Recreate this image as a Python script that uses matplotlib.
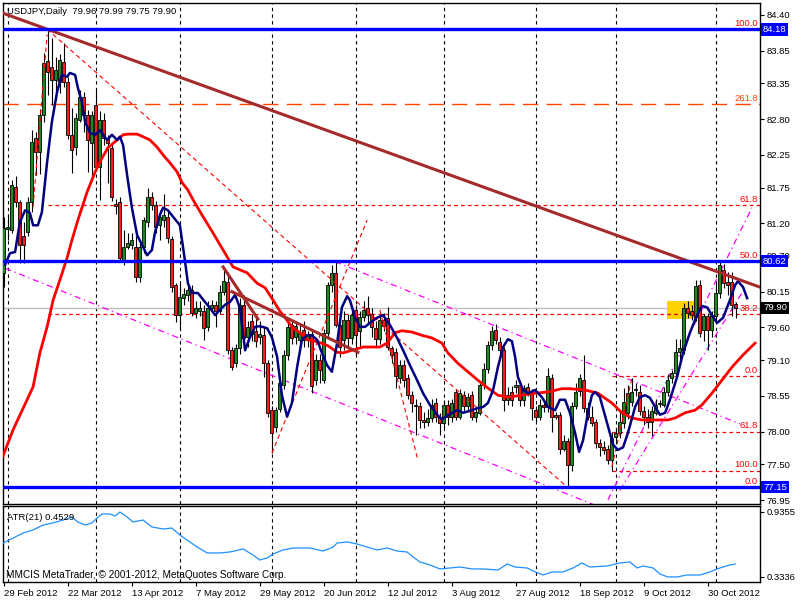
import numpy as np
import matplotlib.pyplot as plt
from matplotlib.patches import Rectangle
from matplotlib.transforms import blended_transform_factory

plt.rcParams['font.family'] = 'Liberation Sans'
plt.rcParams['font.size'] = 6.8

header = "USDJPY,Daily  79.96 79.99 79.75 79.90"

# daily bars, 29 Feb 2012 onwards
opens = [
    80.44, 81.12, 81.10, 81.76, 81.53, 81.00, 81.07, 81.53, 82.51, 82.30,
    82.86, 83.69, 83.60, 83.40, 83.37, 83.68, 83.37, 82.56, 82.37, 82.79,
    83.14, 82.86, 82.43, 83.02, 82.07, 82.79, 82.51, 82.36, 81.50, 81.53,
    80.64, 80.84, 80.87, 80.84, 80.38, 80.84, 81.22, 81.60, 81.48, 81.17,
    81.25, 81.30, 80.96, 80.25, 79.79, 80.05, 80.10, 80.18, 79.82, 79.85,
    79.85, 79.60, 79.90, 79.95, 79.85, 80.15, 80.30, 79.25, 79.05, 79.28,
    79.95, 79.45, 79.70, 79.55, 79.45, 79.48, 79.05, 78.33, 78.07, 78.35,
    78.72, 79.18, 79.64, 79.45, 79.41, 79.56, 79.41, 79.50, 78.79, 79.10,
    78.80, 79.52, 80.25, 80.44, 79.64, 79.41, 79.72, 79.44, 79.87, 79.55,
    79.76, 79.90, 79.80, 79.59, 79.43, 79.72, 79.74, 79.28, 79.23, 78.82,
    79.02, 78.82, 78.56, 78.41, 78.39, 78.18, 78.15, 78.21, 78.44, 78.23,
    78.13, 78.41, 78.23, 78.61, 78.23, 78.56, 78.39, 78.56, 78.23, 78.28,
    78.72, 78.97, 79.33, 79.56, 79.38, 79.25, 78.49, 78.61, 78.69, 78.72,
    78.49, 78.69, 78.61, 78.34, 78.23, 78.41, 78.38, 78.83, 78.26, 78.26,
    77.74, 77.85, 77.49, 78.39, 78.62, 78.79, 78.36, 78.23, 78.15, 77.82,
    77.77, 77.74, 77.56, 77.92, 77.98, 78.13, 78.28, 78.46, 78.64, 78.61,
    78.31, 78.23, 78.15, 78.28, 78.42, 78.41, 78.61, 78.83, 78.90, 79.23,
    79.25, 79.90, 79.85, 79.76, 80.25, 79.56, 79.77, 79.56, 79.77, 80.13,
    80.48, 80.30, 80.30, 79.96]
highs = [
    81.30, 81.35, 81.87, 81.92, 81.56, 81.22, 81.60, 82.63, 82.60, 82.95,
    83.82, 84.18, 84.05, 83.75, 83.80, 83.97, 83.45, 82.97, 82.90, 83.25,
    83.22, 82.94, 82.92, 83.25, 82.92, 82.90, 82.56, 82.45, 81.58, 81.60,
    81.10, 81.05, 81.05, 81.00, 80.95, 81.30, 81.75, 81.68, 81.55, 81.40,
    81.65, 81.40, 81.00, 80.28, 80.28, 80.20, 80.30, 80.25, 80.00, 80.00,
    79.95, 80.00, 80.02, 80.00, 80.25, 80.52, 80.45, 79.30, 79.35, 80.05,
    80.10, 79.70, 79.80, 79.75, 79.70, 79.60, 79.10, 78.40, 78.38, 78.80,
    79.25, 79.75, 79.70, 79.70, 79.65, 79.70, 79.55, 79.55, 79.20, 79.20,
    79.58, 80.30, 80.56, 80.62, 79.75, 79.85, 79.80, 79.95, 79.95, 79.85,
    80.00, 80.08, 79.90, 79.70, 79.78, 79.82, 79.92, 79.32, 79.28, 79.10,
    79.10, 78.88, 78.62, 78.50, 78.45, 78.30, 78.35, 78.50, 78.52, 78.28,
    78.48, 78.49, 78.50, 78.65, 78.65, 78.62, 78.60, 78.62, 78.35, 78.75,
    79.05, 79.40, 79.62, 79.65, 79.45, 79.30, 78.68, 78.70, 78.80, 78.78,
    78.72, 78.75, 78.66, 78.40, 78.50, 78.48, 78.98, 78.88, 78.30, 78.30,
    77.95, 77.90, 78.45, 78.75, 78.88, 79.18, 78.45, 78.40, 78.20, 77.88,
    77.85, 77.80, 78.00, 78.05, 78.30, 78.67, 78.72, 78.82, 78.75, 78.72,
    78.40, 78.35, 78.40, 78.50, 78.48, 78.68, 78.88, 78.95, 79.43, 79.43,
    79.98, 80.00, 79.95, 80.33, 80.33, 79.80, 79.82, 79.85, 80.28, 80.64,
    80.58, 80.45, 80.45, 79.99]
lows = [
    80.22, 80.95, 81.05, 81.45, 80.59, 80.59, 81.00, 81.38, 81.94, 81.95,
    82.75, 83.17, 83.02, 83.10, 83.20, 83.30, 82.50, 81.97, 82.25, 82.75,
    82.60, 81.99, 81.85, 82.00, 81.56, 82.40, 81.82, 81.55, 81.35, 80.60,
    80.56, 80.80, 80.80, 80.30, 80.30, 80.75, 81.15, 81.40, 81.05, 80.95,
    81.15, 80.90, 80.15, 79.68, 79.59, 79.95, 80.00, 79.78, 79.75, 79.78,
    79.41, 79.55, 79.85, 79.60, 79.80, 80.10, 79.20, 78.95, 79.00, 79.20,
    79.35, 79.30, 79.40, 79.30, 79.35, 78.84, 78.22, 77.67, 78.00, 78.30,
    78.65, 79.10, 79.35, 79.35, 79.30, 79.30, 79.30, 78.60, 78.72, 78.75,
    78.75, 79.45, 80.15, 79.60, 79.15, 79.25, 79.30, 79.35, 79.18, 79.30,
    79.70, 79.65, 79.45, 79.30, 79.35, 79.55, 79.25, 79.05, 78.67, 78.75,
    78.69, 78.50, 78.30, 77.95, 78.05, 78.05, 78.08, 78.15, 78.15, 77.95,
    78.05, 78.10, 78.15, 78.18, 78.20, 78.30, 78.30, 78.18, 78.15, 78.25,
    78.65, 78.90, 79.25, 79.35, 79.15, 78.31, 78.41, 78.40, 78.60, 78.40,
    78.40, 78.55, 78.18, 78.15, 78.18, 78.30, 78.30, 78.00, 78.20, 77.65,
    77.70, 77.15, 77.40, 78.35, 78.55, 78.30, 78.18, 78.08, 77.75, 77.62,
    77.65, 77.50, 77.40, 77.85, 77.90, 78.05, 78.20, 78.40, 78.55, 78.25,
    78.10, 78.05, 77.93, 78.25, 78.38, 78.38, 78.55, 78.75, 78.85, 79.08,
    79.20, 79.75, 79.72, 79.70, 79.45, 79.40, 79.25, 79.45, 79.70, 80.05,
    80.20, 80.10, 79.78, 79.75]
closes = [
    81.13, 81.14, 81.79, 81.53, 80.87, 80.87, 81.53, 82.45, 82.30, 82.86,
    83.66, 83.52, 83.40, 83.55, 83.71, 83.37, 82.56, 82.33, 82.82, 83.14,
    82.86, 82.48, 82.86, 82.07, 82.79, 82.51, 82.43, 81.60, 81.46, 80.67,
    80.84, 80.90, 80.95, 80.38, 80.84, 81.25, 81.60, 81.48, 81.14, 81.30,
    81.33, 80.97, 80.22, 79.79, 80.07, 80.12, 80.17, 79.82, 79.90, 79.90,
    79.59, 79.90, 79.95, 79.85, 80.15, 80.32, 79.25, 79.00, 79.28, 79.95,
    79.44, 79.60, 79.50, 79.40, 79.50, 79.05, 78.29, 77.98, 78.33, 78.75,
    79.18, 79.61, 79.44, 79.62, 79.52, 79.41, 79.50, 78.70, 79.10, 78.95,
    79.52, 80.25, 80.44, 79.64, 79.30, 79.72, 79.44, 79.79, 79.48, 79.76,
    79.87, 79.79, 79.60, 79.43, 79.72, 79.62, 79.30, 79.18, 78.85, 79.02,
    78.79, 78.56, 78.44, 78.39, 78.18, 78.15, 78.21, 78.41, 78.23, 78.13,
    78.41, 78.23, 78.44, 78.23, 78.59, 78.39, 78.54, 78.23, 78.30, 78.72,
    78.97, 79.33, 79.54, 79.41, 79.25, 78.49, 78.56, 78.49, 78.72, 78.49,
    78.67, 78.61, 78.36, 78.23, 78.41, 78.38, 78.85, 78.23, 78.23, 77.74,
    77.85, 77.49, 78.39, 78.61, 78.82, 78.36, 78.23, 78.13, 77.82, 77.77,
    77.72, 77.57, 77.90, 77.98, 78.15, 78.46, 78.59, 78.61, 78.64, 78.31,
    78.23, 78.15, 78.31, 78.41, 78.42, 78.61, 78.79, 78.90, 79.23, 79.28,
    79.90, 79.82, 79.79, 80.23, 79.52, 79.77, 79.56, 79.79, 80.13, 80.56,
    80.28, 80.25, 79.95, 79.90]

# fast moving average (navy), read as (bar, price)
fast_x = [0.4, 1.6, 2.9, 4.1, 5.4, 6.6, 7.4, 8.6, 9.6, 10.9, 12.1, 13.4, 14.6, 15.9,
          16.6, 17.9, 18.6, 19.6, 20.4, 21.6, 22.9, 24.1, 25.9, 27.1, 28.4, 29.1,
          29.9, 30.9, 32.1, 33.4, 34.6, 35.9, 37.1, 37.9, 39.1, 39.9, 41.1, 42.4,
          44.1, 45.4, 46.1, 47.1, 48.6, 50.4, 51.6, 52.9, 54.1, 55.4, 56.6, 57.9,
          59.1, 60.4, 61.6, 62.9, 64.1, 65.9, 67.1, 68.4, 69.6, 70.9, 72.1, 73.4,
          74.6, 75.9, 77.1, 78.4, 79.6, 80.9, 82.1, 83.4, 84.6, 85.9, 86.6, 87.9,
          89.1, 90.4, 91.6, 93.4, 94.9, 96.6, 98.4, 99.9, 101.6, 103.4, 104.9,
          106.6, 108.4, 109.6, 111.6, 113.4, 114.9, 116.6, 118.4, 119.9, 121.1,
          122.4, 123.6, 124.9, 126.1, 127.1, 127.9, 128.6, 129.9, 131.1, 132.9,
          134.6, 136.1, 137.9, 139.1, 140.4, 141.6, 142.9, 143.9, 144.9, 146.1,
          147.1, 147.9, 149.1, 150.9, 152.4, 153.6, 154.9, 156.1, 157.9, 159.1,
          160.4, 161.6, 162.9, 164.1, 165.4, 166.6, 168.4, 169.9, 171.6, 173.4,
          174.6, 175.9, 177.1, 178.4, 179.9, 181.6, 182.9, 183.6, 184.9, 185.9]
fast_ma = [80.56, 80.74, 80.76, 81.22, 81.40, 81.36, 81.17, 81.17, 81.37, 82.14,
           82.76, 83.22, 83.48, 83.45, 83.51, 83.48, 83.28, 83.06, 82.76, 82.59,
           82.56, 82.63, 82.48, 82.56, 82.48, 82.53, 82.40, 81.94, 81.44, 81.02,
           80.87, 80.71, 80.79, 81.07, 81.33, 81.44, 81.40, 81.30, 81.17, 80.61,
           80.28, 80.13, 80.13, 79.99, 79.90, 79.79, 79.87, 79.95, 79.99, 80.10,
           79.90, 79.25, 79.45, 79.61, 79.62, 79.59, 79.45, 79.15, 78.56, 78.23,
           78.44, 78.99, 79.41, 79.48, 79.48, 79.41, 79.21, 79.02, 78.92, 79.36,
           79.91, 80.08, 80.02, 79.75, 79.61, 79.61, 79.67, 79.75, 79.79, 79.64,
           79.44, 79.25, 79.02, 78.79, 78.59, 78.41, 78.26, 78.19, 78.27, 78.33,
           78.29, 78.32, 78.36, 78.38, 78.44, 78.64, 78.99, 79.30, 79.42, 79.39,
           79.15, 78.84, 78.64, 78.59, 78.64, 78.53, 78.38, 78.33, 78.49, 78.49,
           78.29, 77.98, 77.69, 77.87, 78.29, 78.56, 78.61, 78.53, 78.13, 77.80,
           77.72, 77.76, 77.98, 78.38, 78.53, 78.56, 78.52, 78.38, 78.26, 78.29,
           78.49, 78.84, 79.21, 79.52, 79.79, 79.93, 79.91, 79.79, 79.67, 79.75,
           80.02, 80.25, 80.31, 80.22, 80.05]

# slow moving average (red), read as (bar, price)
slow_x = [-0.1, 2.4, 5.9, 7.4, 9.1, 10.9, 12.4, 14.1, 15.9, 17.1, 18.6, 20.9, 22.9,
          24.6, 26.1, 28.4, 29.9, 31.1, 33.4, 34.9, 36.6, 38.4, 39.9, 41.6, 43.4,
          44.6, 46.1, 47.4, 49.9, 52.4, 54.9, 57.4, 60.9, 63.4, 65.4, 67.4, 69.1,
          70.4, 72.1, 74.1, 76.1, 78.6, 81.1, 83.4, 84.9, 87.1, 89.9, 94.1, 95.9,
          97.9, 99.6, 102.1, 104.6, 107.1, 109.6, 111.1, 113.6, 116.1, 118.6,
          121.1, 123.6, 126.1, 129.6, 132.9, 136.1, 139.6, 141.6, 145.4, 148.6,
          152.1, 154.6, 157.1, 159.6, 162.9, 166.1, 167.9, 170.4, 172.9, 174.6,
          177.1, 179.6, 182.1, 184.6, 185.4, 187.9]
slow_ma = [77.63, 78.03, 78.49, 78.69, 79.21, 79.61, 80.02, 80.33, 80.67, 80.94,
           81.25, 81.68, 81.99, 82.20, 82.36, 82.48, 82.56, 82.57, 82.57, 82.53,
           82.48, 82.37, 82.25, 82.13, 81.99, 81.83, 81.71, 81.56, 81.30, 81.05,
           80.79, 80.53, 80.44, 80.28, 80.21, 80.02, 79.85, 79.75, 79.61, 79.52,
           79.41, 79.38, 79.32, 79.22, 79.21, 79.25, 79.30, 79.30, 79.36, 79.52,
           79.55, 79.53, 79.48, 79.44, 79.36, 79.21, 79.05, 78.92, 78.79, 78.67,
           78.56, 78.53, 78.56, 78.59, 78.61, 78.66, 78.66, 78.64, 78.59, 78.44,
           78.29, 78.21, 78.18, 78.18, 78.18, 78.21, 78.29, 78.33, 78.41, 78.59,
           78.79, 78.99, 79.16, 79.21, 79.36]

# ATR(21), read as (bar, value)
atr_x = [-0.1, 2.4, 4.9, 7.4, 9.9, 12.4, 14.9, 17.1, 18.6, 20.4, 22.1, 23.4, 24.6,
         26.6, 27.9, 29.1, 30.9, 32.4, 34.9, 37.1, 39.9, 42.1, 44.1, 45.9, 48.4,
         50.9, 54.1, 56.6, 59.9, 62.4, 64.1, 65.9, 67.4, 69.9, 72.4, 76.6, 79.9,
         82.4, 83.4, 85.9, 88.4, 90.9, 93.4, 95.9, 98.4, 100.9, 102.4, 104.1,
         106.6, 109.1, 111.6, 114.1, 117.1, 119.9, 123.6, 125.9, 127.9, 130.9,
         132.4, 134.9, 137.1, 139.9, 142.4, 144.6, 146.6, 150.9, 154.1, 156.6,
         158.4, 159.9, 162.4, 164.1, 166.1, 168.4, 170.9, 174.1, 176.6, 178.4,
         179.9, 181.6, 182.9]
atr = [0.648, 0.694, 0.741, 0.769, 0.815, 0.834, 0.861, 0.889, 0.843, 0.815,
       0.834, 0.880, 0.917, 0.917, 0.898, 0.9355, 0.889, 0.843, 0.861, 0.797,
       0.778, 0.787, 0.722, 0.676, 0.611, 0.556, 0.556, 0.565, 0.593, 0.537,
       0.491, 0.510, 0.547, 0.584, 0.602, 0.602, 0.574, 0.611, 0.648, 0.658,
       0.639, 0.611, 0.584, 0.602, 0.574, 0.565, 0.519, 0.473, 0.445, 0.408,
       0.417, 0.426, 0.408, 0.408, 0.398, 0.454, 0.426, 0.417, 0.389, 0.352,
       0.380, 0.380, 0.417, 0.463, 0.426, 0.435, 0.463, 0.473, 0.417, 0.435,
       0.417, 0.361, 0.3336, 0.334, 0.352, 0.352, 0.380, 0.408, 0.426, 0.445,
       0.4529]

date_ticks = [0, 16, 32, 48, 64, 80, 96, 112, 128, 144, 160, 176]
date_labels = ['29 Feb 2012', '22 Mar 2012', '13 Apr 2012', '7 May 2012', '29 May 2012',
               '20 Jun 2012', '12 Jul 2012', '3 Aug 2012', '27 Aug 2012', '18 Sep 2012',
               '9 Oct 2012', '30 Oct 2012']
month_starts = [1, 23, 44, 67, 88, 110, 133, 153, 178]
price_ticks = [84.40, 83.85, 83.35, 82.80, 82.25, 81.75, 81.20, 80.70, 80.15,
               79.60, 79.10, 78.55, 78.00, 77.50, 76.95]

blue_levels = [84.18, 80.62, 77.15]
fib1_start = 11
fib1_levels = [84.18, 81.48, 80.62, 79.80, 77.15]
fib1_labels = ['100.0', '61.8', '50.0', '38.2', '0.0']
fib2_start = 152
fib2_levels = [78.85, 78.00, 77.40]
fib2_labels = ['0.0', '61.8', '100.0']
ext_level = 83.03
last_price = 79.90

# trend lines as ((bar, price), (bar, price))
main_trend = ((11, 84.18), (189.1, 80.22))
short_trends = [((57.1, 80.15), (88.6, 79.22)), ((54.9, 80.53), (63.6, 79.73))]
red_diagonals = [((10.9, 84.18), (140.9, 77.15)), ((7.4, 81.45), (10.9, 84.10)),
                 ((67.1, 77.67), (90.9, 81.25)), ((94.1, 79.87), (103.6, 77.56)),
                 ((152.1, 77.46), (157.1, 78.82))]
channel_lines = [((0.4, 80.51), (147.9, 76.87)), ((82.9, 80.61), (184.1, 78.12)),
                 ((151.1, 76.95), (187.1, 81.44)), ((154.1, 77.10), (185.4, 80.21))]
zone = (165.9, 172.9, 79.73, 80.00)

fig = plt.figure(figsize=(8, 6), dpi=100)
ax = fig.add_axes([3 / 800, 1 - 504 / 600, 757 / 800, 501 / 600])
ax2 = fig.add_axes([3 / 800, 1 - 582 / 600, 757 / 800, 76 / 600])

xlim = (-0.125, 189.125)
ax.set_xlim(xlim)
ax.set_ylim(76.889, 84.584)
ax2.set_xlim(xlim)
ax2.set_ylim(0.287, 0.991)

for a in (ax, ax2):
    for b in month_starts:
        a.axvline(b, color='black', lw=0.8, ls=(0, (3, 3)), zorder=1)
    for s in a.spines.values():
        s.set_linewidth(1)

# horizontal objects
ax.axhline(last_price, color='#c0c0c0', lw=1, zorder=1.2)
ax.axhline(ext_level, color='#ff4500', lw=1, ls=(0, (11, 6)), zorder=2)
for lv in fib1_levels:
    ax.plot([fib1_start, xlim[1]], [lv, lv], color='red', lw=0.9, ls=(0, (3, 2.5)), zorder=2)
for lv in fib2_levels:
    ax.plot([fib2_start, xlim[1]], [lv, lv], color='red', lw=0.9, ls=(0, (3, 2.5)), zorder=2)

x0, x1, y0, y1 = zone
ax.add_patch(Rectangle((x0, y0), x1 - x0, y1 - y0, color='#ffd200', lw=0, zorder=1.5))

for (xa, ya), (xb, yb) in channel_lines:
    ax.plot([xa, xb], [ya, yb], color='#ff00ff', lw=0.9, ls=(0, (5, 3, 1, 3)), zorder=2)

# candles
idx = np.arange(len(closes))
o = np.array(opens)
c = np.array(closes)
h = np.array(highs)
l = np.array(lows)
up = c >= o
ax.vlines(idx, l, h, color='black', lw=0.8, zorder=3)
bottom = np.minimum(o, c)
height = np.maximum(np.abs(c - o), 0.014)
ax.bar(idx[up], height[up], bottom=bottom[up], width=0.7, color='#1f8a1f',
       edgecolor='black', lw=0.6, zorder=4)
ax.bar(idx[~up], height[~up], bottom=bottom[~up], width=0.7, color='#ff1a1a',
       edgecolor='black', lw=0.6, zorder=4)

for (xa, ya), (xb, yb) in red_diagonals:
    ax.plot([xa, xb], [ya, yb], color='red', lw=0.8, ls=(0, (4, 3)), zorder=5)

ax.plot(slow_x, slow_ma, color='red', lw=2, zorder=5)
ax.plot(fast_x, fast_ma, color='#000080', lw=1.8, zorder=5.5)

ax.axline(main_trend[0], main_trend[1], color='#a52a2a', lw=2.2, zorder=6)
for (xa, ya), (xb, yb) in short_trends:
    ax.plot([xa, xb], [ya, yb], color='#a52a2a', lw=2.2, zorder=6)

for lv in blue_levels:
    ax.axhline(lv, color='#0000ff', lw=2.4, zorder=6.5)

# level captions at the right edge
for lv, txt in zip(fib1_levels, fib1_labels):
    ax.text(188.6, lv + 0.02, txt, color='red', ha='right', va='bottom', zorder=7)
for lv, txt in zip(fib2_levels, fib2_labels):
    ax.text(188.6, lv + 0.02, txt, color='red', ha='right', va='bottom', zorder=7)
ax.text(188.6, ext_level + 0.02, '261.8', color='#ff4500', ha='right', va='bottom', zorder=7)

# right price axis
ax.yaxis.tick_right()
ax.set_yticks(price_ticks)
ax.set_yticklabels(['%.2f' % v for v in price_ticks])
ax.tick_params(axis='y', length=3, pad=2, width=0.8)
ax.set_xticks([])

tr = blended_transform_factory(ax.transAxes, ax.transData)
for lv in blue_levels:
    ax.text(1.004, lv, '%.2f' % lv, transform=tr, color='white', ha='left', va='center',
            bbox=dict(facecolor='#0000ff', edgecolor='none', pad=1.2), zorder=8, clip_on=False)
ax.text(1.004, last_price, '%.2f' % last_price, transform=tr, color='white', ha='left',
        va='center', bbox=dict(facecolor='black', edgecolor='none', pad=1.2), zorder=8,
        clip_on=False)

fig.text(7 / 800, 1 - 12 / 600, header, ha='left', va='center')

# ATR panel
ax2.plot(atr_x, atr, color='#1e90ff', lw=0.9, zorder=3)
ax2.yaxis.tick_right()
ax2.set_yticks([0.9355, 0.3336])
ax2.set_yticklabels(['0.9355', '0.3336'])
ax2.tick_params(axis='y', length=3, pad=2, width=0.8)
ax2.set_xticks(date_ticks)
ax2.set_xticklabels(date_labels)
ax2.tick_params(axis='x', length=3, pad=2, width=0.8)
for lab in ax2.get_xticklabels():
    lab.set_ha('left')
ax2.text(0.005, 0.85, 'ATR(21) 0.4529', transform=ax2.transAxes, ha='left', va='center')
ax2.text(0.004, 0.09, 'MMCIS MetaTrader, \u00a9 2001-2012, MetaQuotes Software Corp.',
         transform=ax2.transAxes, ha='left', va='center', fontsize=7.2)

fig.savefig('out.png', dpi=100)
